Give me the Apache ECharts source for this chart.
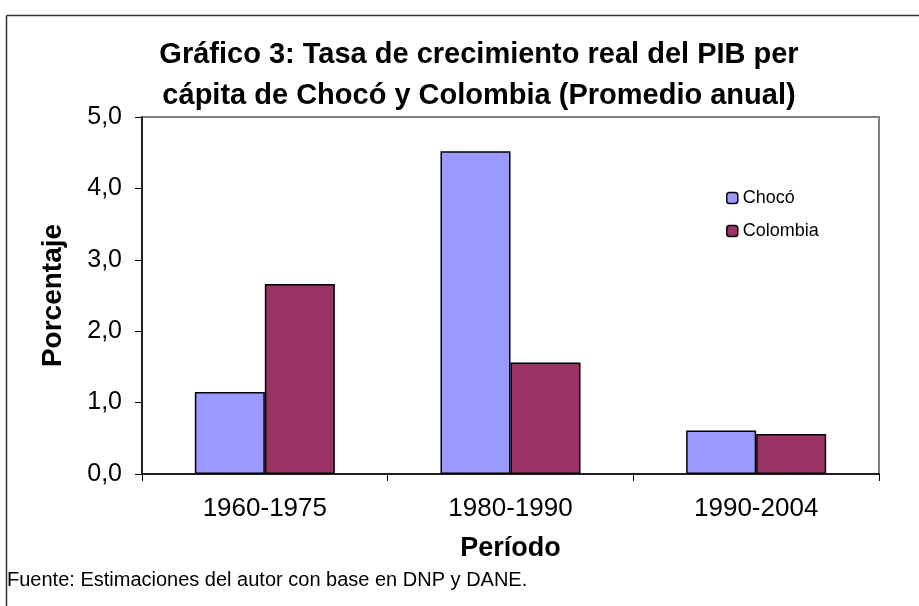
<!DOCTYPE html>
<html>
<head>
<meta charset="utf-8">
<script src="https://cdn.jsdelivr.net/npm/echarts@6/dist/echarts.min.js"></script>
<style>
html,body{margin:0;padding:0;background:#fff;}
#c{width:919px;height:606px;}
</style>
</head>
<body>
<div id="c"></div>
<script>
var categories = ['1960-1975', '1980-1990', '1990-2004'];
var choco = [1.15, 4.52, 0.61];
var colombia = [2.66, 1.56, 0.56];
var yTicks = [0, 1, 2, 3, 4, 5];

var chart = echarts.init(document.getElementById('c'), null, {renderer: 'canvas'});
var FONT = 'Liberation Sans, Arial, sans-serif';
chart.setOption({
  animation: false,
  backgroundColor: '#fff',
  title: {
    text: 'Gráfico 3: Tasa de crecimiento real del PIB per\ncápita de Chocó y Colombia (Promedio anual)',
    left: 474, top: 29, textAlign: 'center',
    textStyle: {fontFamily: FONT, fontWeight: 'bold', fontSize: 29, lineHeight: 41, color: '#000'}
  },
  graphic: [
    {type: 'line', shape: {x1: 6.5, y1: 15.5, x2: 919, y2: 15.5}, style: {stroke: '#333', lineWidth: 1.5}},
    {type: 'line', shape: {x1: 6.5, y1: 15.5, x2: 6.5, y2: 606}, style: {stroke: '#333', lineWidth: 1.5}},
    {type: 'text', left: 7, top: 570, style: {text: 'Fuente: Estimaciones del autor con base en DNP y DANE.', font: '20px Liberation Sans, Arial, sans-serif', fill: '#000'}}
  ],
  legend: {
    orient: 'vertical', left: 721, top: 184, itemWidth: 11, itemHeight: 11, itemGap: 15,
    textStyle: {fontFamily: FONT, fontSize: 18, color: '#000'},
    data: [
      {name: 'Chocó', itemStyle: {color: '#9999FF', borderColor: '#000', borderWidth: 1.5}},
      {name: 'Colombia', itemStyle: {color: '#993366', borderColor: '#000', borderWidth: 1.5}}
    ]
  },
  grid: {left: 142, right: 40, top: 117, bottom: 132, show: true, borderColor: '#808080', borderWidth: 2, backgroundColor: '#fff'},
  xAxis: {
    type: 'category', data: categories,
    name: 'Período', nameLocation: 'middle', nameGap: 61,
    nameTextStyle: {fontFamily: FONT, fontWeight: 'bold', fontSize: 27, color: '#000'},
    axisLine: {lineStyle: {color: '#000', width: 1.5}},
    axisTick: {show: true, length: 7, lineStyle: {color: '#000'}},
    axisLabel: {fontFamily: FONT, fontSize: 26, color: '#000', margin: 22}
  },
  yAxis: {
    type: 'value', min: 0, max: 5, interval: 1,
    name: 'Porcentaje', nameLocation: 'middle', nameGap: 75, nameRotate: 90,
    nameTextStyle: {fontFamily: FONT, fontWeight: 'bold', fontSize: 28, color: '#000'},
    axisLine: {show: true, lineStyle: {color: '#000', width: 1.5}},
    axisTick: {show: true, length: 7, lineStyle: {color: '#000'}},
    splitLine: {show: false},
    axisLabel: {fontFamily: FONT, fontSize: 25, color: '#000', margin: 20,
      formatter: function (v) { return yTicks.indexOf(v) >= 0 ? v.toFixed(1).replace('.', ',') : ''; }}
  },
  series: [
    {name: 'Chocó', type: 'bar', data: choco, barGap: '0%', barCategoryGap: '43%',
      itemStyle: {color: '#9999FF', borderColor: '#000', borderWidth: 1.5}},
    {name: 'Colombia', type: 'bar', data: colombia, barGap: '0%', barCategoryGap: '43%',
      itemStyle: {color: '#993366', borderColor: '#000', borderWidth: 1.5}}
  ]
});
</script>
</body>
</html>
